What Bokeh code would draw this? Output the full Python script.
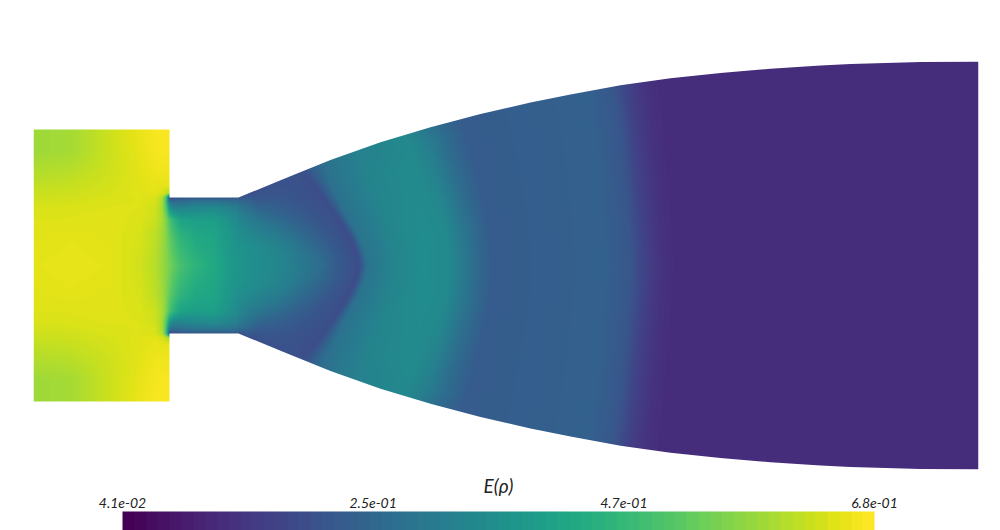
import numpy as np
from bokeh.core.properties import value
from bokeh.embed import file_html
from bokeh.models import LinearColorMapper, Range1d
from bokeh.palettes import Viridis256
from bokeh.plotting import figure
from bokeh.resources import INLINE

E_MIN, E_MAX = 0.041, 0.68
tick_values = [0.041, 0.254, 0.467, 0.68]
tick_labels = ["4.1e-02", "2.5e-01", "4.7e-01", "6.8e-01"]
title_text = "E(\u03c1)"

# Domain outline (x, half-height), one data unit per screen pixel
chamber_x = [33, 169]
chamber_half = 136
throat_x = [169, 238]
throat_half = 68
wall_x = [238, 280, 330, 380, 430, 480, 530, 570, 620, 670, 720, 770, 820, 850, 920, 978]
wall_h = [68, 85.2, 105.4, 123.3, 138.3, 151.5, 162.9, 171, 180.2, 187.2, 192.6, 196.7, 199.9, 201.5, 203.6, 204]

# Chamber and throat: field read on a table (fraction of the colour range)
cham_xs = [33, 70, 110, 140, 155, 162, 166, 169, 173, 180, 195, 215, 238]
cham_ys = [0, 30, 46, 58, 64, 68, 72, 80, 100, 115, 136]
cham_t = [
    [.96, .965, .96, .93, .89, .85, .82, .80, .76, .71, .65, .60, .52],
    [.955, .96, .955, .94, .90, .86, .81, .76, .71, .65, .60, .58, .50],
    [.95, .95, .955, .945, .92, .87, .80, .72, .65, .58, .56, .56, .47],
    [.94, .945, .95, .95, .93, .86, .72, .52, .44, .44, .46, .47, .42],
    [.93, .935, .947, .95, .94, .87, .68, .38, .35, .36, .38, .38, .36],
    [.925, .93, .945, .95, .94, .88, .70, .20, .22, .25, .27, .27, .27],
    [.92, .925, .94, .955, .96, .94, .90, .87, .87, .87, .87, .87, .87],
    [.905, .915, .935, .955, .965, .965, .965, .97, .97, .97, .97, .97, .97],
    [.875, .885, .925, .96, .98, .98, .98, .98, .98, .98, .98, .98, .98],
    [.855, .865, .925, .965, .985, .99, .99, .99, .99, .99, .99, .99, .99],
    [.855, .865, .925, .97, .99, .99, .99, .99, .99, .99, .99, .99, .99],
]

# Nozzle: field read along lines of constant relative height
noz_eta = [0, .12, .25, .5, .75, .9, 1]
noz_x = [
    [238, 283, 317, 340, 359, 367, 392, 425, 449, 469, 492, 604, 630, 644, 660, 675, 978],
    [238, 282, 315, 337, 356, 364, 390, 424, 448, 468, 491, 603, 629, 643, 659, 674, 978],
    [238, 280, 310, 332, 350, 358, 386, 422, 446, 466, 489, 601, 627, 641, 657, 672, 978],
    [238, 270, 295, 317, 334, 343, 376, 418, 438, 458, 481, 597, 623, 637, 653, 668, 978],
    [238, 260, 280, 302, 318, 331, 366, 414, 431, 449, 472, 593, 619, 633, 649, 664, 978],
    [238, 255, 272, 295, 309, 325, 360, 410, 426, 444, 466, 590, 616, 629, 646, 661, 978],
    [238, 250, 268, 290, 303, 321, 355, 405, 420, 437, 460, 588, 612, 626, 643, 658, 978],
]
noz_t = [
    [.52, .45, .37, .28, .235, .38, .45, .49, .47, .38, .29, .31, .27, .20, .15, .13, .13],
    [.52, .45, .36, .28, .235, .38, .45, .49, .47, .38, .29, .31, .27, .20, .15, .13, .13],
    [.52, .44, .34, .27, .235, .38, .45, .49, .47, .38, .29, .31, .27, .20, .15, .13, .13],
    [.49, .39, .31, .26, .24, .37, .45, .48, .46, .37, .29, .31, .27, .20, .15, .13, .13],
    [.44, .32, .28, .25, .24, .37, .45, .48, .44, .36, .29, .31, .27, .20, .15, .13, .13],
    [.38, .27, .26, .25, .24, .37, .44, .47, .43, .36, .29, .31, .27, .20, .15, .13, .13],
    [.25, .24, .25, .25, .25, .36, .44, .47, .42, .35, .29, .31, .27, .20, .15, .13, .13],
]

# Rendering the table on the screen grid
X0, X1 = chamber_x[0], wall_x[-1]
Y1 = wall_h[-1]
xs = np.arange(X0, X1) + 0.5
ys = np.arange(-Y1, Y1) + 0.5
abs_y = np.abs(ys)
t_img = np.zeros((ys.size, xs.size))

# chamber and throat
mask_c = xs <= throat_x[1]
by_row = np.array([np.interp(xs[mask_c], cham_xs, r) for r in cham_t])
for j in range(by_row.shape[1]):
    t_img[:, j] = np.interp(abs_y, cham_ys, by_row[:, j])

# nozzle
levels = np.linspace(0, 1, 401)
cols = np.where(~mask_c)[0]
nx = np.array(noz_x, float)
nt = np.array(noz_t, float)
lut = np.zeros((levels.size, cols.size))
for i, e in enumerate(levels):
    kx = [np.interp(e, noz_eta, nx[:, k]) for k in range(nx.shape[1])]
    kt = [np.interp(e, noz_eta, nt[:, k]) for k in range(nt.shape[1])]
    lut[i] = np.interp(xs[cols], kx, kt)
h = np.interp(xs[cols], wall_x, wall_h)
for n, j in enumerate(cols):
    eta = np.clip(abs_y / h[n], 0, 1)
    t_img[:, j] = lut[np.rint(eta * (levels.size - 1)).astype(int), n]

field = E_MIN + t_img * (E_MAX - E_MIN)
mapper = LinearColorMapper(palette=Viridis256, low=E_MIN, high=E_MAX)

# Figure: frame fills the figure, one data unit per pixel
W, H = 1000, 530
p = figure(width=W, height=H, output_backend="svg", toolbar_location=None,
           x_range=Range1d(0, W), y_range=Range1d(-H / 2, H / 2),
           min_border=0, outline_line_color=None)
p.axis.visible = False
p.grid.visible = False
p.background_fill_color = "white"

p.image(image=[field], x=X0, y=-Y1, dw=X1 - X0, dh=2 * Y1, color_mapper=mapper)

# white masks give the outline its soft edge
out_x = [chamber_x[0], chamber_x[0], chamber_x[1], throat_x[0]] + wall_x + [wall_x[-1]]
out_y = [0, chamber_half, chamber_half, throat_half] + wall_h + [0]
mask_x = [X0 - 3] + out_x + [X1 + 3, X1 + 3, X0 - 3]
mask_y = [0] + out_y + [0, Y1 + 3, Y1 + 3]
p.patch(mask_x, mask_y, fill_color="white", line_color=None)
p.patch(mask_x, [-v for v in mask_y], fill_color="white", line_color=None)

# Colour bar along the bottom
bar_x0, bar_x1 = 122, 874
bar_top, bar_bottom = -246, -265
bands = np.linspace(E_MIN, E_MAX, 64)
bar_img = np.repeat(bands, 12)[None, :]
p.image(image=[bar_img], x=bar_x0, y=bar_bottom, dw=bar_x1 - bar_x0, dh=bar_top - bar_bottom, color_mapper=mapper)

to_bar = lambda v: bar_x0 + (v - E_MIN) / (E_MAX - E_MIN) * (bar_x1 - bar_x0)
p.text(x=[to_bar(v) for v in tick_values], y=[bar_top + 4] * 4, text=tick_labels,
       text_font=value("Lato"), text_font_size="14px", text_font_style="italic",
       text_color="#222222", text_align="center", text_baseline="bottom")
p.text(x=[(bar_x0 + bar_x1) / 2], y=[-220], text=[title_text],
       text_font=value("Lato"), text_font_size="19px", text_font_style="italic",
       text_color="#222222", text_align="center", text_baseline="middle")

open("out.html", "w").write(file_html(p, INLINE))
